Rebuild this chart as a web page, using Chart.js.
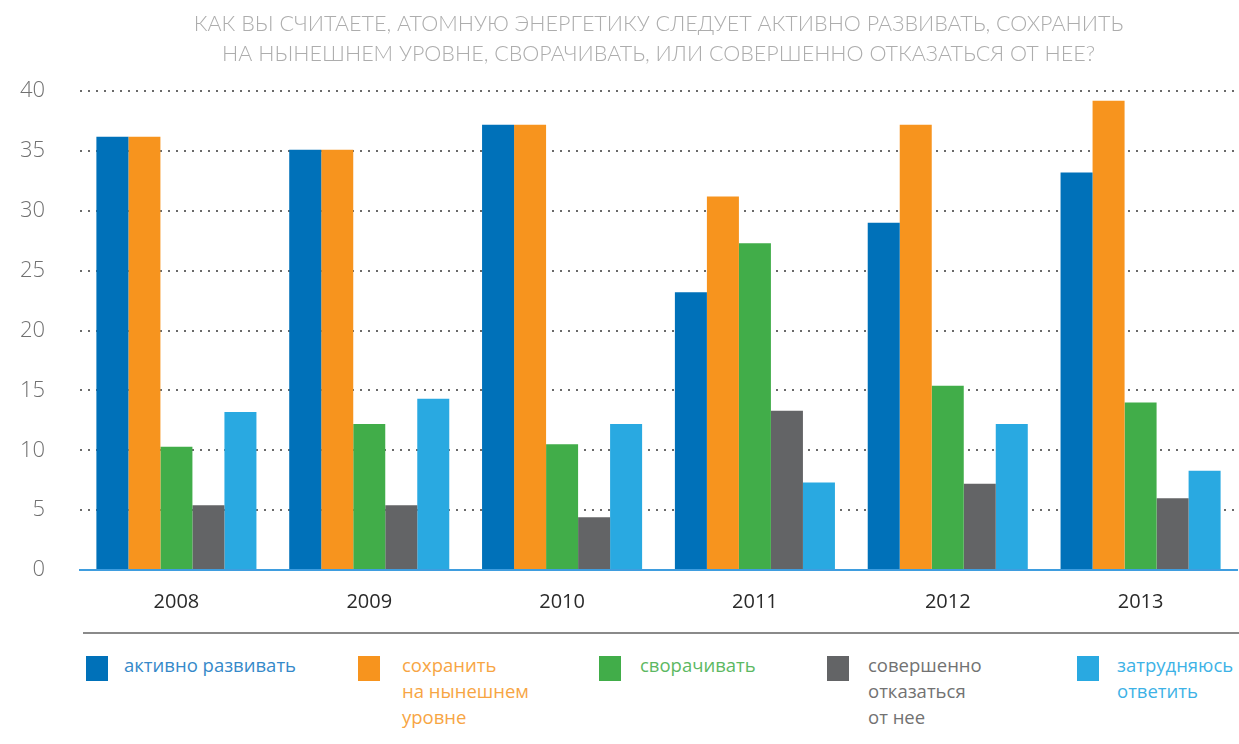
<!DOCTYPE html>
<html>
<head>
<meta charset="utf-8">
<script src="https://cdn.jsdelivr.net/npm/chart.js@4.4.1/dist/chart.umd.min.js"></script>
<style>
  body { margin: 0; background: #fff; width: 1239px; height: 744px; overflow: hidden; font-family: "Open Sans", sans-serif; }
  #wrap { position: absolute; left: 0; top: 0; width: 1239px; height: 626px; }
  #sep { position: absolute; left: 83px; top: 632px; width: 1156px; height: 2px; background: #8a8a8a; }
  .item { position: absolute; top: 656px; }
  .item .sw { position: absolute; left: 0; top: 0; width: 22px; height: 25px; }
  .item .tx { position: absolute; top: -4px; font-size: 18.5px; line-height: 26px; white-space: nowrap; }
</style>
</head>
<body>
<div id="wrap"><canvas id="chart"></canvas></div>
<div id="sep"></div>
<div id="legend"></div>
<script>
// Survey: attitude to nuclear power, % of answers per year
const years = ["2008", "2009", "2010", "2011", "2012", "2013"];
const develop = [36.2, 35.1, 37.2, 23.2, 29.0, 33.2];
const keepLevel = [36.2, 35.1, 37.2, 31.2, 37.2, 39.2];
const reduce = [10.3, 12.2, 10.5, 27.3, 15.4, 14.0];
const abandon = [5.4, 5.4, 4.4, 13.3, 7.2, 6.0];
const undecided = [13.2, 14.3, 12.2, 7.3, 12.2, 8.3];
const yTicks = [0, 5, 10, 15, 20, 25, 30, 35, 40];

const seriesNames = [
  ["активно развивать"],
  ["сохранить", "на нынешнем", "уровне"],
  ["сворачивать"],
  ["совершенно", "отказаться", "от нее"],
  ["затрудняюсь", "ответить"],
];
const colors = ["#0071b9", "#f7941e", "#41ad49", "#636466", "#29a9e1"];
const textColors = ["#3589c9", "#f7a543", "#5cb862", "#727272", "#3db2e6"];
const legendX = [86, 358, 599, 827, 1077];
const textX = [124, 402, 640, 868, 1117];

const values = [develop, keepLevel, reduce, abandon, undecided];

const ctx = document.getElementById("chart");
new Chart(ctx, {
  type: "bar",
  data: {
    labels: years,
    datasets: values.map((v, i) => ({
      label: seriesNames[i].join(" "),
      data: v,
      backgroundColor: colors[i],
      barPercentage: 1,
      categoryPercentage: 0.83,
    })),
  },
  options: {
    responsive: true,
    maintainAspectRatio: false,
    animation: false,
    layout: { padding: { left: 0, right: 2, top: 6, bottom: 0 } },
    plugins: {
      legend: { display: false },
      tooltip: { enabled: false },
      title: {
        display: true,
        fullSize: false,
        text: [
          "КАК ВЫ СЧИТАЕТЕ, АТОМНУЮ ЭНЕРГЕТИКУ СЛЕДУЕТ АКТИВНО РАЗВИВАТЬ, СОХРАНИТЬ",
          "НА НЫНЕШНЕМ УРОВНЕ, СВОРАЧИВАТЬ, ИЛИ СОВЕРШЕННО ОТКАЗАТЬСЯ ОТ НЕЕ?",
        ],
        color: "#adadad",
        font: { family: "Lato", size: 21.5, weight: 300, lineHeight: 1.4 },
        padding: { top: 3, bottom: 22 },
      },
    },
    scales: {
      x: {
        grid: { display: false },
        border: { display: true, color: "#3f9ddf", width: 2 },
        ticks: { color: "#2a2a2a", font: { family: "Open Sans", size: 20 }, padding: 12 },
      },
      y: {
        min: 0,
        max: 40,
        afterBuildTicks: (axis) => { axis.ticks = yTicks.map((v) => ({ value: v })); },
        afterFit: (axis) => { axis.width = 80; },
        border: { display: false, dash: [2, 6] },
        grid: { color: "#6a6a6a", lineWidth: 2, drawTicks: false },
        ticks: { color: "#707070", font: { family: "Open Sans", size: 22, weight: 300 }, padding: 35 },
      },
    },
  },
});

// Legend below the separator line
const legend = document.getElementById("legend");
seriesNames.forEach((lines, i) => {
  const el = document.createElement("div");
  el.className = "item";
  el.style.left = legendX[i] + "px";
  el.innerHTML = `<div class="sw" style="background:${colors[i]}"></div>` +
    `<div class="tx" style="left:${textX[i] - legendX[i]}px;color:${textColors[i]}">${lines.join("<br>")}</div>`;
  legend.appendChild(el);
});
</script>
</body>
</html>
